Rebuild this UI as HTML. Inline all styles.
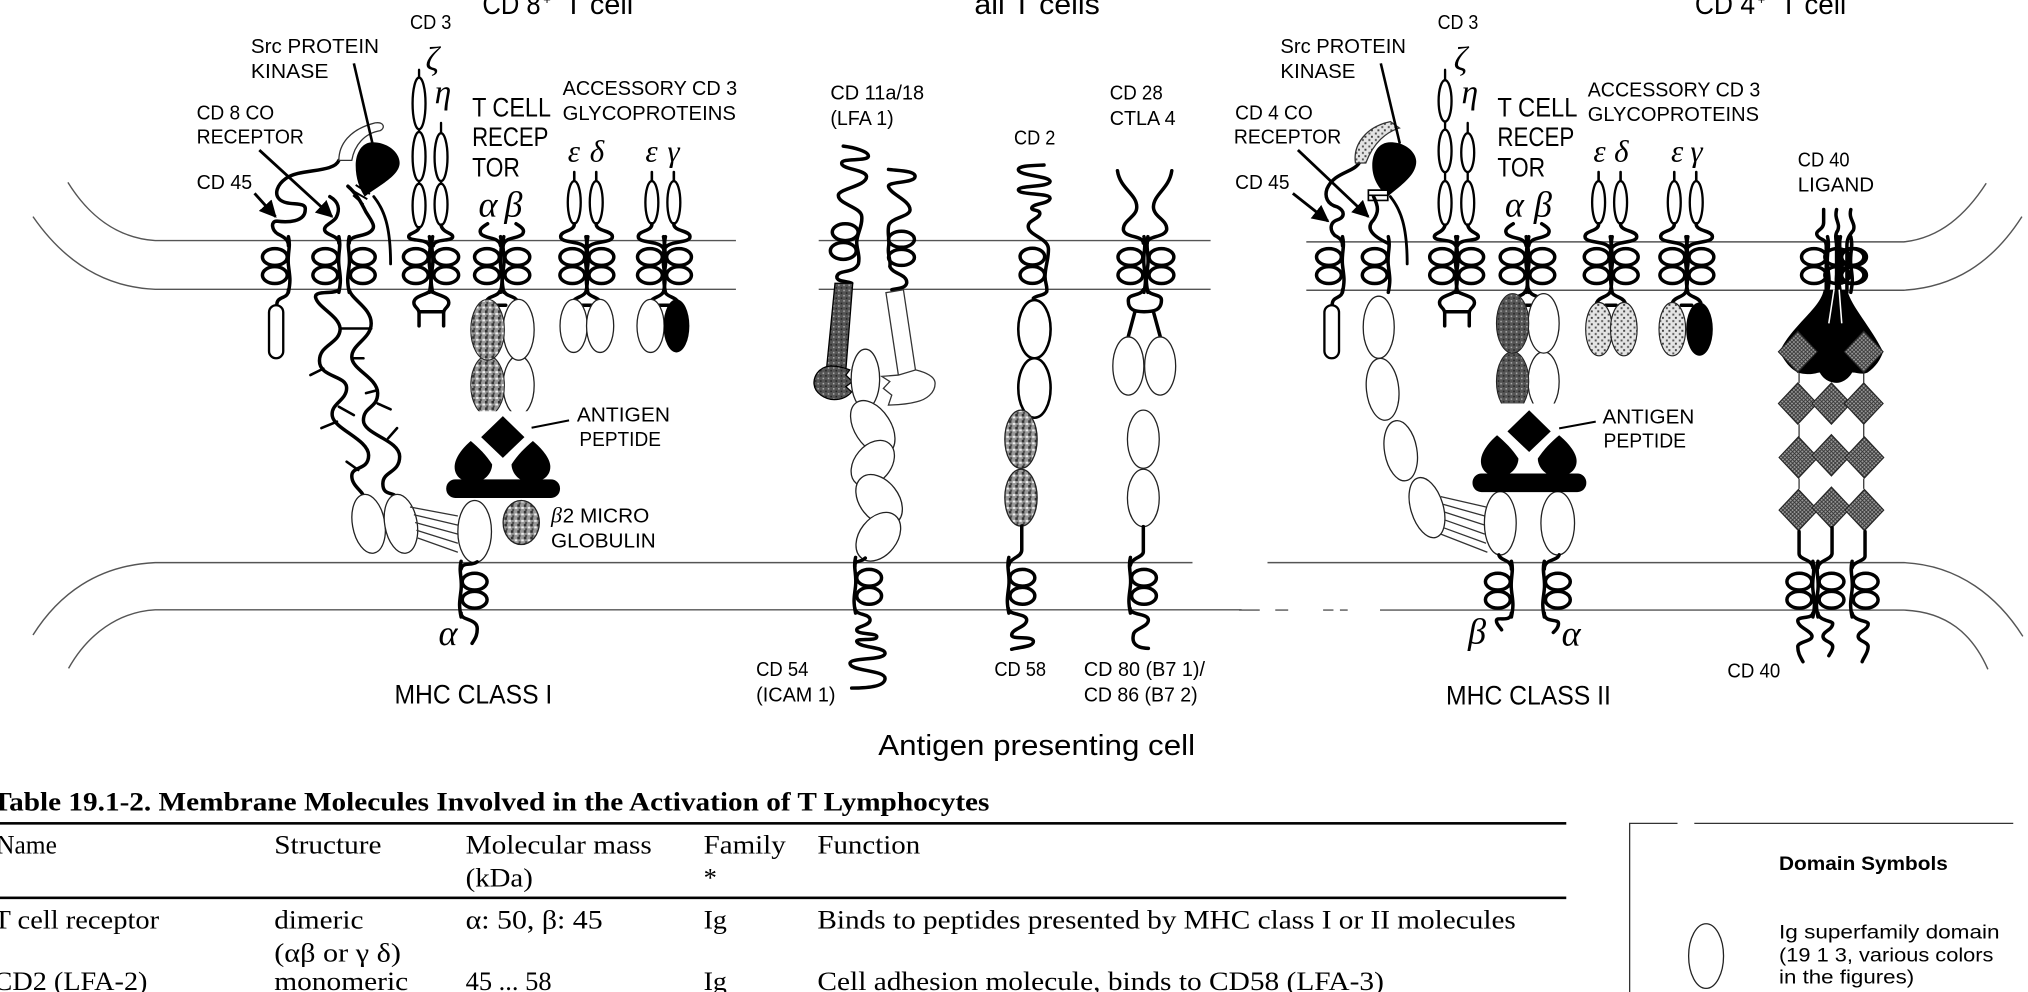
<!DOCTYPE html>
<html lang="en">
<head>
<meta charset="utf-8">
<title>T cell membrane molecules</title>
<style>
html,body{margin:0;padding:0;background:#fff;width:2028px;height:992px;overflow:hidden}
svg{display:block}
.s{font-family:"Liberation Sans",sans-serif;font-size:16px;fill:#000}
.m{font-family:"Liberation Sans",sans-serif;font-size:20.5px;fill:#000}
.h{font-family:"Liberation Sans",sans-serif;font-size:22px;fill:#000}
.g{font-family:"Liberation Serif",serif;font-style:italic;font-size:24px;fill:#000}
.ga{font-family:"Liberation Serif",serif;font-style:italic;font-size:28px;fill:#000}
.t{font-family:"Liberation Serif",serif;font-size:20.5px;fill:#000}
.b{font-family:"Liberation Serif",serif;font-size:20.5px;font-weight:bold;fill:#000}
.l{font-family:"Liberation Sans",sans-serif;font-size:15px;fill:#000}
.lb{font-family:"Liberation Sans",sans-serif;font-size:15px;font-weight:bold;fill:#000}
.w{fill:none;stroke:#000;stroke-width:2.7;stroke-linecap:round;stroke-linejoin:round}
.o{fill:#fff;stroke:#222;stroke-width:1}
.ob{fill:#fff;stroke:#000;stroke-width:2}
.n{fill:none;stroke:#333;stroke-width:1}
.mem{fill:none;stroke:#555;stroke-width:1.1}
</style>
</head>
<body>
<svg xmlns="http://www.w3.org/2000/svg" width="2028" height="992" viewBox="0 0 1568 767" preserveAspectRatio="none">
<defs>
<pattern id="st" width="5" height="5" patternUnits="userSpaceOnUse">
<rect width="5" height="5" fill="#999"/><rect x="0" y="0" width="2" height="2" fill="#333"/><rect x="3" y="2" width="2" height="1.5" fill="#eee"/><rect x="1" y="3.5" width="1.5" height="1.5" fill="#444"/>
</pattern>
<pattern id="lt" width="5" height="5" patternUnits="userSpaceOnUse">
<rect width="5" height="5" fill="#e4e4e4"/><rect x="0" y="0" width="1.5" height="1.5" fill="#444"/><rect x="3" y="2.5" width="1.5" height="1.5" fill="#555"/>
</pattern>
<pattern id="dk" width="4" height="4" patternUnits="userSpaceOnUse">
<rect width="4" height="4" fill="#555"/><rect x="0" y="0" width="1.2" height="1.2" fill="#aaa"/><rect x="2" y="2" width="1.2" height="1.2" fill="#222"/>
</pattern>
<pattern id="hx" width="3" height="3" patternUnits="userSpaceOnUse">
<rect width="3" height="3" fill="#999"/><path d="M0 0L3 3M3 0L0 3" stroke="#333" stroke-width=".7"/>
</pattern>
<marker id="a" viewBox="0 0 10 10" refX="9" refY="5" markerWidth="6" markerHeight="6" orient="auto"><path d="M0 0L10 5L0 10Z" fill="#000"/></marker>

<g id="cl" class="w"><ellipse cx="-10.5" cy="12.7" rx="9.6" ry="6.5"/><ellipse cx="-10.5" cy="26.7" rx="9.6" ry="6.5"/><path d="M0 -3C2 5-1 10 0 19S2 30 0 40"/></g>
<g id="cr" class="w"><ellipse cx="10.5" cy="12.7" rx="9.6" ry="6.5"/><ellipse cx="10.5" cy="26.7" rx="9.6" ry="6.5"/><path d="M0 -3C-2 5 1 10 0 19S-2 30 0 40"/></g>

<g id="ed" class="w">
<path d="M-9.5 -53V-46M7.5 -53V-46" style="stroke-width:2"/>
<ellipse cx="-9.5" cy="-29.5" rx="5" ry="16.5" fill="#fff" style="stroke-width:1.8"/><ellipse cx="7.5" cy="-29.5" rx="5" ry="16.5" fill="#fff" style="stroke-width:1.8"/>
<path d="M-9.5 -13C-9 -7-20 -8-20 -3C-20 3-1 -1 0 8M7.5 -13C7 -7 20 -8 20 -3C20 3 1 -1 0 8"/>
<path d="M0 38C-1 44-9 43-11 48M0 38C1 44 9 43 11 48M-4 50H4"/>
</g>

<g id="cd3b" class="w"><path d="M0 38C-1 42-13 42-13 48C-13 52-9 52-9 56L-9 66M0 38C1 42 14 42 14 48C14 52 10 52 10 56L10 66M-9 55H10"/></g>

<g id="tcr" class="w"><path d="M-11 -13C-16 -10-18 -8-16 -5C-12 -1-2 -3-1 4M11 -13C16 -10 18 -8 16 -5C12 -1 2 -3 1 4"/><path d="M-1 38C-3 44-10 42-12 47M1 38C3 44 10 42 12 47M-3 50H3"/></g>

<g id="mh">
<path fill="#000" d="M388.8 321.7L405.5 338L388.8 354L372 338Z"/>
<path fill="#000" d="M364 341C358 346 351.5 354 351.5 361C351.5 369 358 373 366 373C374 373 380.5 366 380.5 359C376 352 370 346 364 341Z"/>
<path fill="#000" d="M412 341C418 346 425.5 354 425.5 361C425.5 369 418 373 410 373C402 373 395.5 366 395.5 359C400 352 406 346 412 341Z"/>
<rect x="345" y="370.6" width="88" height="14.4" rx="7" fill="#000"/>
</g>

<path id="dm" d="M0 -16L15 0L0 16L-15 0Z" fill="url(#hx)" stroke="#222" stroke-width=".8"/>
<clipPath id="c1"><rect x="350" y="230" width="70" height="88"/></clipPath>
<clipPath id="c2"><rect x="1150" y="226" width="70" height="86"/></clipPath>
</defs>

<rect width="1568" height="767" fill="#fff"/>

<!-- T cell membrane -->
<path class="mem" d="M52.5 141C68 166 90 184 120 186H569M25.5 167.5C48 200 78 222 120 223.7H569"/>
<path class="mem" d="M633 186H936M633 223.7H936"/>
<path class="mem" d="M1010 187H1472C1500 184 1520 166 1535.7 141.7M1010 224.4H1472C1510 222 1540 204 1563.3 167.5"/>
<!-- APC membrane -->
<path class="mem" d="M25.5 491C45 460 75 437 120 435H922M53 516.8C68 490 92 473 120 471.5H960"/>
<path class="mem" d="M980 435H1472C1515 437 1545 462 1564 492M958 471.7H974M986 471.7H996M1023 471.7H1031M1036 471.7H1042M1067 471.7H1472C1505 473 1525 490 1537 517.5"/>

<!-- ===== CD8 panel ===== -->
<!-- CD45 -->
<use href="#cl" x="223" y="186"/>
<path class="w" d="M262 124C258 134 232 130 221 138C214 143 212 150 216 154C222 160 237 155 236 162C236 172 222 172 214 171C209 171 210 178 215 181C221 184 223 186 223 190M223 224C223 232 214 228 214 236"/>
<rect x="208" y="236" width="11" height="41" rx="5.5" fill="#fff" stroke="#000" stroke-width="1.8"/>
<!-- banana -->
<path d="M262 124C262 112 270 100 290 95C297 94 298 99 294 101C282 103 274 112 272 124Z" fill="#fff" stroke="#333" stroke-width="1"/>
<!-- kinase -->
<path d="M288 110C300 110 309 118 309 126C309 136 292 144 282 152C278 146 275 138 275 128C275 118 280 110 288 110Z" fill="#000"/>
<path d="M273.6 49L288 111" stroke="#000" stroke-width="2"/>
<path class="w" d="M289 152C297 162 302 175 302 204" style="stroke-width:2.2"/>
<path d="M272 147L284 154M273 151L281 158M275 143L286 150" stroke="#000" stroke-width="1.5"/>
<!-- CD8 chains -->
<use href="#cl" x="262" y="186"/><use href="#cr" x="270" y="186"/>
<path class="w" d="M255 152C262 156 263 162 260 168C258 172 250 174 251 178C252 182 262 182 262 188"/>
<path class="w" d="M269 144C276 150 280 158 283 164C288 172 292 176 285 180C280 183 270 182 270 188"/>
<path class="w" d="M262 224C258 228 243 224 244 230C246 238 262 244 263 254C263 266 247 266 247 279S268 290 268 300S255 312 257 322S285 340 285 352S272 360 272 368S281 380 281 384"/>
<path class="w" d="M270 224C272 232 287 238 287 250C287 262 272 266 272 276S292 292 292 304S281 314 281 325S309 340 309 353S296 364 296 374S305 380 305.5 384"/>
<path class="w" style="stroke-width:2" d="M263 254H287M240 290L250 285M262 314.5L273.6 321M248.5 331L260.5 326M268 357L277 363.4M273.6 277H281M283 304L292 301.6M292 312L302 316.5M300 339L307 331"/>
<ellipse class="o" cx="285" cy="405" rx="12.5" ry="23" transform="rotate(-10 285 405)"/>
<ellipse class="o" cx="310" cy="405" rx="12.5" ry="23" transform="rotate(-10 310 405)"/>
<path class="n" d="M317 392L354 399M320 398L354 406M321 404L354 413M322 410L354 420M323 416L354 427"/>
<ellipse class="o" cx="367" cy="411" rx="13" ry="24"/>
<ellipse cx="403" cy="404" rx="14" ry="17" fill="url(#st)" stroke="#222" stroke-width="1"/>
<use href="#mh"/>
<path d="M411 330.7L440 325" stroke="#000" stroke-width="1.6"/>
<!-- MHC I coil -->
<use href="#cr" x="356.5" y="437"/>
<path class="w" d="M369 434.4C364 438 358 434 356.5 440M356.5 474C356 480 369 478 369 486C369 492 367 494 365 497.4"/>
<!-- CD3 left -->
<use href="#cl" x="332" y="186"/><use href="#cr" x="334.5" y="186"/>
<use href="#cd3b" x="333" y="186"/>
<g class="w" style="stroke-width:1.8"><path d="M324 54V60M324 100V102M324 140V142M341 95V103M341 140V142"/>
<ellipse cx="324" cy="80" rx="5" ry="20" fill="#fff"/><ellipse cx="324" cy="121" rx="5" ry="19" fill="#fff"/><ellipse cx="324" cy="159" rx="5" ry="17" fill="#fff"/>
<ellipse cx="341" cy="121.5" rx="5" ry="18.5" fill="#fff"/><ellipse cx="341" cy="158" rx="5" ry="16" fill="#fff"/></g>
<path class="w" d="M324 176C323 180 316 180 316 183C316 187 330 184 332 190M341 174C342 180 350 180 350 183C350 187 336 184 335 190"/>
<!-- TCR left -->
<use href="#cl" x="387" y="186"/><use href="#cr" x="389.5" y="186"/><use href="#tcr" x="388" y="186"/>
<g clip-path="url(#c1)"><ellipse cx="401" cy="298" rx="12" ry="23" class="o"/><ellipse cx="377" cy="298" rx="13" ry="23" fill="url(#st)" stroke="#222" stroke-width=".8"/></g>
<ellipse cx="401" cy="255" rx="12" ry="23.5" class="o"/>
<ellipse cx="377" cy="255" rx="13" ry="23.5" fill="url(#st)" stroke="#222" stroke-width=".8"/>
<!-- eps delta, eps gamma left -->
<use href="#cl" x="453" y="186"/><use href="#cr" x="454.5" y="186"/><use href="#ed" x="453.5" y="186"/>
<ellipse class="o" cx="443.5" cy="252" rx="10.5" ry="20.5"/><ellipse class="o" cx="464" cy="252" rx="10.5" ry="20.5"/>
<use href="#cl" x="513" y="186"/><use href="#cr" x="514.5" y="186"/><use href="#ed" x="513.5" y="186"/>
<ellipse class="o" cx="503" cy="252" rx="10.5" ry="20.5"/><ellipse cx="523" cy="252" rx="10" ry="20.5" fill="#000"/>

<!-- ===== Middle ===== -->
<!-- LFA-1 -->
<g class="w"><ellipse cx="653.5" cy="179.5" rx="10" ry="6.5"/><ellipse cx="652" cy="194" rx="10" ry="6.5"/>
<path d="M652 113C660 114 672 117 671.4 121C670 125 651 122 650.8 126C650 131 670 131 670 136.6C670 144 648 146 648.2 151C648 158 666 160 666.3 167.5C667 175 662 182 662.4 188S665 198 663.7 204C660 212 648 208 647 214C647 218 654 217 658.5 219"/>
<ellipse cx="697" cy="185" rx="10" ry="6.2"/><ellipse cx="697" cy="199" rx="10" ry="6.2"/>
<path d="M687 131C695 132 708 132 707.5 136.6C707 142 686 140 687 144.3C688 150 704 155 703.6 162.4C703 168 688 168 687 175C686 182 688 184 687 191S689 200 688 206C690 212 702 212 701 219C700 223 694 223 689.5 224"/></g>
<path d="M645.6 219L659.3 219L654 286L639.2 283.5Z" fill="url(#dk)" stroke="#000" stroke-width="1"/>
<path d="M642 283C632 284 629 292 629.4 297C630 304 638 309 645 309C652 309 656 306 658.5 303L654 299L659 295L654 290L657 286C652 284 648 283 642 283Z" fill="url(#dk)" stroke="#000" stroke-width="1"/>
<path d="M685 226.3L698.5 224L708 287.3L694.6 290Z" fill="#fff" stroke="#333" stroke-width="1"/>
<path d="M681.8 291L694.6 290L708 286C716 288 723 291 723 296.4C723 304 716 309 708.8 310.6C700 313 692 313 686.9 313.2L689.5 305.5L683 300.3L688 295Z" fill="#fff" stroke="#333" stroke-width="1"/>
<ellipse class="o" cx="669.1" cy="293" rx="11" ry="23"/>
<ellipse class="o" cx="674.8" cy="330.5" rx="14" ry="23" transform="rotate(-33 674.8 330.5)"/>
<ellipse class="o" cx="674.8" cy="358.3" rx="14" ry="20" transform="rotate(40 674.8 358.3)"/>
<ellipse class="o" cx="679.7" cy="386.6" rx="15" ry="22" transform="rotate(-38 679.7 386.6)"/>
<ellipse class="o" cx="679.1" cy="415" rx="14.5" ry="21" transform="rotate(38 679.1 415)"/>
<use href="#cr" x="661.5" y="434"/>
<path class="w" d="M669 431.5C664 436 661 432 661 438M661 470.4C661 476 672.7 474 672.7 479.4C672.7 484 662.4 484 662.4 487C662.4 491 677.9 489 677.9 492.3C677.9 496 662 493 662.4 496C664 501 684.3 500 684.3 505C684.3 511 657.2 508 657.2 512.9C657.2 519 684.3 518 684.3 524.5C684.3 531 670 532 658.5 532"/>
<!-- CD2 -->
<g class="w"><ellipse cx="798.2" cy="198.4" rx="9.5" ry="6.5"/><ellipse cx="798.2" cy="212.6" rx="9.5" ry="6.5"/>
<path d="M807.2 127.6C798 128 787 128 787.4 131.4C788 136 812 136 811.9 140.4C811 145 787 143 787.4 146.9C788 151 812 149 811.9 153.3C811 158 798 157 797.7 161C798 163 804 162 804 165C804 169 795 170 795 175C795 182 810 184 810.6 192C811 200 808 206 808 214C808 219 810 221 809.3 225.5C807 229 802 228 799 230.6"/></g>
<g fill="#fff" stroke="#000" stroke-width="2"><ellipse cx="799.8" cy="300" rx="12.5" ry="23"/><ellipse cx="799.8" cy="254.5" rx="12.5" ry="22.5"/></g>
<ellipse cx="789.4" cy="339.6" rx="12.5" ry="22.5" fill="url(#st)" stroke="#222" stroke-width="1"/>
<ellipse cx="789.4" cy="384.8" rx="12.5" ry="22" fill="url(#st)" stroke="#222" stroke-width="1"/>
<path class="w" d="M790 406.7V425.3C790 431 781 431 780 437"/>
<use href="#cr" x="780" y="434"/>
<path class="w" d="M779.6 470.4C780 476 793.8 474 793.8 479.4C793.8 485 782.2 486 782.2 491C782.2 495 799 491 799 496C799 500 790 500 782.2 502"/>
<!-- CTLA -->
<use href="#cl" x="884.5" y="186"/><use href="#cr" x="887.5" y="186"/>
<path class="w" d="M864 132C866 146 879 150 878.9 160C879 168 868 170 868.6 177.8C870 184 884 182 884 188M906 132C904 146 892 150 891.8 160C892 168 903 170 902 177.8C900 184 887 182 887 188"/>
<path class="w" d="M884 224C882 229 872.4 227 872.4 232C872 240 878 241 884.5 241C892 241 898 240 898 232C898 227 889 229 887 224M877.5 241L872.4 260M891.8 241L897 260"/>
<ellipse class="o" cx="872.4" cy="283" rx="12" ry="22.5"/><ellipse class="o" cx="897" cy="283" rx="12" ry="22.5"/>
<ellipse class="o" cx="884" cy="339.6" rx="12.3" ry="22.5"/><ellipse class="o" cx="884" cy="385" rx="12.3" ry="22.2"/>
<path class="w" d="M884 407.2V426.6C884 431 875 431 874 437"/>
<use href="#cr" x="874" y="434"/>
<path class="w" d="M873.7 470.4C874 476 887.9 474 887.9 479.4C887.9 485 876.3 486 876.3 491C875 497 878 501 887.9 501.3"/>

<!-- ===== CD4 panel ===== -->
<use href="#cl" x="1038" y="186"/>
<path class="w" d="M1052 124C1048 134 1032 132 1026 146C1024 152 1026 158 1034 160C1040 163 1040 168 1034 170C1028 172 1028 178 1032 182C1036 184 1038 186 1038 190M1038 224C1038 232 1030 228 1030 236"/>
<rect x="1024" y="236" width="11.3" height="41" rx="5.6" fill="#fff" stroke="#000" stroke-width="1.8"/>
<path d="M1048 126C1046 112 1056 98 1075 94L1082 99C1072 102 1062 110 1056 126Z" fill="url(#lt)" stroke="#333" stroke-width="1"/>
<path d="M1075 110C1087 110 1095 118 1095 125C1095 136 1082 144 1073 152C1066 146 1061 138 1061 128C1061 118 1066 110 1075 110Z" fill="#000"/>
<path d="M1067.6 49L1082.3 111" stroke="#000" stroke-width="2"/>
<path class="w" d="M1075 152C1083 162 1088 175 1088 204" style="stroke-width:2.2"/>
<path d="M1058 147H1073V155H1058ZM1058 151H1073" fill="#fff" stroke="#000" stroke-width="1.3"/>
<use href="#cl" x="1073.4" y="186"/>
<path class="w" d="M1062 152C1066 160 1066 164 1062 170C1056 176 1060 182 1073 188"/>
<ellipse class="o" cx="1066" cy="253" rx="12" ry="24"/>
<ellipse class="o" cx="1069" cy="301" rx="12.5" ry="24" transform="rotate(-6 1069 301)"/>
<ellipse class="o" cx="1083" cy="348.5" rx="12.5" ry="23.5" transform="rotate(-10 1083 348.5)"/>
<ellipse class="o" cx="1103.3" cy="392.5" rx="12.5" ry="24" transform="rotate(-17 1103.3 392.5)"/>
<path class="n" d="M1114 384L1149 392M1116 390L1148 399M1117 396L1148 406M1117 402L1148 413M1116 408L1149 420M1114 413L1150 427"/>
<ellipse class="o" cx="1160" cy="404.6" rx="12.3" ry="24.5"/>
<ellipse class="o" cx="1204.4" cy="404.6" rx="13" ry="24.5"/>
<use href="#mh" transform="translate(793.5,-4.5)"/>
<path d="M1205.5 331.2L1233.8 326" stroke="#000" stroke-width="1.6"/>
<use href="#cl" x="1168.6" y="437"/><use href="#cr" x="1194" y="437"/>
<path class="w" d="M1158.9 429C1160 434 1168.6 432 1168.6 440M1205.5 429C1204 434 1194 432 1194 440M1168.6 474C1168 482 1157 476 1157 480C1157 483 1160 485 1161 487M1194 474C1194 482 1205 478 1205 482C1205 485 1203 487 1201 489"/>
<!-- CD3 right -->
<use href="#cl" x="1125.5" y="186"/><use href="#cr" x="1127" y="186"/>
<use href="#cd3b" x="1126" y="186"/>
<g class="w" style="stroke-width:1.8"><path d="M1117.3 54V62M1117.3 94V100.5M1117.3 133V140M1134.8 95V103M1134.8 133V140"/>
<ellipse cx="1117.3" cy="78" rx="5" ry="16" fill="#fff"/><ellipse cx="1117.3" cy="116.7" rx="5" ry="16.5" fill="#fff"/><ellipse cx="1117.3" cy="157" rx="5" ry="17" fill="#fff"/>
<ellipse cx="1134.8" cy="118" rx="5" ry="15" fill="#fff"/><ellipse cx="1134.8" cy="157" rx="5" ry="17" fill="#fff"/></g>
<path class="w" d="M1117.3 174C1116 180 1109 180 1109 183C1109 187 1123 184 1125.5 190M1134.8 174C1136 180 1143 180 1143 183C1143 187 1129 184 1127 190"/>
<!-- TCR right -->
<use href="#cl" x="1180" y="186"/><use href="#cr" x="1182" y="186"/><use href="#tcr" x="1181" y="186"/>
<g clip-path="url(#c2)"><ellipse cx="1193.5" cy="295" rx="12" ry="23" class="o"/><ellipse cx="1169.5" cy="295" rx="12.5" ry="23" fill="url(#dk)" stroke="#222" stroke-width=".8"/></g>
<ellipse cx="1193.5" cy="250" rx="12" ry="23" class="o"/>
<ellipse cx="1169.5" cy="250" rx="12.5" ry="23" fill="url(#dk)" stroke="#222" stroke-width=".8"/>
<!-- eps delta/gamma right -->
<use href="#cl" x="1245" y="186"/><use href="#cr" x="1246.5" y="186"/><use href="#ed" x="1245.5" y="186"/>
<ellipse cx="1236.3" cy="254.5" rx="10.3" ry="20.6" fill="url(#lt)" stroke="#222" stroke-width=".9"/><ellipse cx="1255.5" cy="254.5" rx="10.3" ry="20.6" fill="url(#lt)" stroke="#222" stroke-width=".9"/>
<use href="#cl" x="1303.5" y="186"/><use href="#cr" x="1305" y="186"/><use href="#ed" x="1304" y="186"/>
<ellipse cx="1293" cy="254.5" rx="10.3" ry="20.6" fill="url(#lt)" stroke="#222" stroke-width=".9"/><ellipse cx="1314" cy="254.5" rx="10.3" ry="20.6" fill="#000"/>
<!-- CD40 ligand -->
<use href="#cl" x="1413" y="186"/><use href="#cr" x="1423" y="186"/><use href="#cl" x="1431" y="186"/><use href="#cr" x="1421" y="186"/>
<path class="w" d="M1410 162V172C1410 178 1403 178 1405 182C1407 186 1412 184 1412 190V226M1420 162C1418 170 1423 172 1421 178C1418 182 1420 186 1420 190V226M1431 162C1429 170 1435 172 1433 178C1430 182 1428 184 1428 190V226"/>
<path fill="#000" d="M1410 224C1408 238 1385 252 1376 272C1380 280 1386 288 1394 289C1402 290 1405 288 1407 288C1410 294 1416 296 1420 296C1425 296 1430 292 1432 288C1436 288 1440 290 1444 288C1450 284 1454 278 1456 272C1446 252 1432 238 1428 224Z"/>
<path d="M1418 224L1414 250M1422 224L1424 250" stroke="#fff" stroke-width="1.2"/>
<use href="#dm" x="1390" y="272"/><use href="#dm" x="1441" y="272"/>
<use href="#dm" x="1390" y="312"/><use href="#dm" x="1416" y="312"/><use href="#dm" x="1441" y="312"/>
<use href="#dm" x="1390.5" y="353.7"/><use href="#dm" x="1416" y="352"/><use href="#dm" x="1441.5" y="353.7"/>
<use href="#dm" x="1390.5" y="394.4"/><use href="#dm" x="1416" y="392.5"/><use href="#dm" x="1441.5" y="394.4"/>
<path d="M1391 288V296M1441 288V296M1391 328V338M1441 328V338M1391 370V378M1441 370V378" stroke="#222" stroke-width=".9"/>
<path class="w" d="M1391 411V428C1391 433 1401 432 1401.7 439M1416.5 408V428C1416 433 1406 433 1405.6 439M1442 411V430C1442 434 1433 434 1432 439"/>
<use href="#cl" x="1401.7" y="437"/><use href="#cr" x="1405.6" y="437"/><use href="#cr" x="1432" y="437"/>
<path class="w" d="M1401.7 474C1401 479 1390 476 1390 480C1390 485 1401 488 1401 492C1401 496 1390 496 1390 500C1390 505 1392 508 1394 511.6M1405.6 474C1406 480 1417 480 1417 482C1417 487 1409.5 488 1409.5 492C1409.5 496 1417 496 1417 500C1417 503 1415 505 1414 507M1432 474C1433 480 1444 480 1444.4 482C1445 487 1436.7 488 1436.7 492C1436.7 496 1444.4 496 1444.4 500C1444.4 505 1441 508 1439.8 511.6"/>

<!-- arrows -->
<g stroke="#000" stroke-width="2.2">
<path d="M200.5 116L256.7 167.5" marker-end="url(#a)"/>
<path d="M196.8 149.5L213 167.5" marker-end="url(#a)"/>
<path d="M1003.5 116L1057.9 167.5" marker-end="url(#a)"/>
<path d="M999.6 149.5L1026.8 171" marker-end="url(#a)"/>
</g>

<!-- Titles -->
<text class="h" x="373" y="11" textLength="45" lengthAdjust="spacingAndGlyphs">CD 8</text><text class="s" x="420" y="3" style="font-size:10px">+</text><text class="h" x="436.6" y="11" textLength="53" lengthAdjust="spacingAndGlyphs">T cell</text>
<text class="h" x="753.4" y="11" textLength="97" lengthAdjust="spacingAndGlyphs">all T cells</text>
<text class="h" x="1310.4" y="11" textLength="46.6" lengthAdjust="spacingAndGlyphs">CD 4</text><text class="s" x="1359" y="3" style="font-size:10px">+</text><text class="h" x="1376.4" y="11" textLength="51" lengthAdjust="spacingAndGlyphs">T cell</text>

<!-- Left labels -->
<text class="s" x="194" y="41" textLength="99" lengthAdjust="spacingAndGlyphs">Src PROTEIN</text>
<text class="s" x="194" y="60.5" textLength="60" lengthAdjust="spacingAndGlyphs">KINASE</text>
<text class="s" x="317" y="22.5" textLength="32" lengthAdjust="spacingAndGlyphs">CD 3</text>
<text class="g" x="329" y="54" style="font-size:26px">ζ</text><text class="g" x="336" y="80" style="font-size:26px">η</text>
<text class="s" x="152" y="92.5" textLength="60" lengthAdjust="spacingAndGlyphs">CD 8 CO</text>
<text class="s" x="152" y="111" textLength="83" lengthAdjust="spacingAndGlyphs">RECEPTOR</text>
<text class="s" x="152" y="146" textLength="43" lengthAdjust="spacingAndGlyphs">CD 45</text>
<text class="m" x="365" y="90" textLength="61" lengthAdjust="spacingAndGlyphs">T CELL</text>
<text class="m" x="365" y="113" textLength="59" lengthAdjust="spacingAndGlyphs">RECEP</text>
<text class="m" x="365" y="136.6" textLength="37" lengthAdjust="spacingAndGlyphs">TOR</text>
<text class="s" x="435" y="73.5" textLength="135" lengthAdjust="spacingAndGlyphs">ACCESSORY CD 3</text>
<text class="s" x="435" y="92.8" textLength="134" lengthAdjust="spacingAndGlyphs">GLYCOPROTEINS</text>
<text class="g" x="439" y="125">ε</text><text class="g" x="456" y="125">δ</text>
<text class="g" x="499" y="125">ε</text><text class="g" x="516" y="125">γ</text>
<text class="ga" x="370" y="167.5">α</text><text class="ga" x="390" y="167.5">β</text>
<text class="s" x="446" y="326" textLength="72" lengthAdjust="spacingAndGlyphs">ANTIGEN</text>
<text class="s" x="448" y="345" textLength="63" lengthAdjust="spacingAndGlyphs">PEPTIDE</text>
<text class="g" x="426" y="404" style="font-size:17px">β</text><text class="s" x="435" y="404" textLength="67" lengthAdjust="spacingAndGlyphs">2 MICRO</text>
<text class="s" x="426" y="423.5" textLength="81" lengthAdjust="spacingAndGlyphs">GLOBULIN</text>
<text class="ga" x="339" y="498.7">α</text>
<text class="m" x="305" y="543.8" textLength="122" lengthAdjust="spacingAndGlyphs">MHC CLASS I</text>

<!-- Middle labels -->
<text class="s" x="642" y="76.8" textLength="72.5" lengthAdjust="spacingAndGlyphs">CD 11a/18</text>
<text class="s" x="642" y="96.6" textLength="49" lengthAdjust="spacingAndGlyphs">(LFA 1)</text>
<text class="s" x="784" y="111.6" textLength="32" lengthAdjust="spacingAndGlyphs">CD 2</text>
<text class="s" x="858" y="76.8" textLength="41" lengthAdjust="spacingAndGlyphs">CD 28</text>
<text class="s" x="858" y="96.6" textLength="51" lengthAdjust="spacingAndGlyphs">CTLA 4</text>
<text class="s" x="584.6" y="522.7" textLength="40.4" lengthAdjust="spacingAndGlyphs">CD 54</text>
<text class="s" x="584.6" y="542.5" textLength="61.4" lengthAdjust="spacingAndGlyphs">(ICAM 1)</text>
<text class="s" x="768.8" y="522.7" textLength="40" lengthAdjust="spacingAndGlyphs">CD 58</text>
<text class="s" x="838" y="522.7" textLength="93.7" lengthAdjust="spacingAndGlyphs">CD 80 (B7 1)/</text>
<text class="s" x="838" y="542.5" textLength="88" lengthAdjust="spacingAndGlyphs">CD 86 (B7 2)</text>
<text class="h" x="679" y="583.8" textLength="245" lengthAdjust="spacingAndGlyphs">Antigen presenting cell</text>

<!-- Right labels -->
<text class="s" x="990" y="41" textLength="97" lengthAdjust="spacingAndGlyphs">Src PROTEIN</text>
<text class="s" x="990" y="60.5" textLength="58" lengthAdjust="spacingAndGlyphs">KINASE</text>
<text class="s" x="1111.5" y="22.5" textLength="31.5" lengthAdjust="spacingAndGlyphs">CD 3</text>
<text class="g" x="1124" y="54" style="font-size:26px">ζ</text><text class="g" x="1130" y="80" style="font-size:26px">η</text>
<text class="s" x="955" y="92.5" textLength="60" lengthAdjust="spacingAndGlyphs">CD 4 CO</text>
<text class="s" x="954" y="111" textLength="83" lengthAdjust="spacingAndGlyphs">RECEPTOR</text>
<text class="s" x="955" y="146" textLength="42" lengthAdjust="spacingAndGlyphs">CD 45</text>
<text class="m" x="1157.7" y="90" textLength="62" lengthAdjust="spacingAndGlyphs">T CELL</text>
<text class="m" x="1157.7" y="113" textLength="59.5" lengthAdjust="spacingAndGlyphs">RECEP</text>
<text class="m" x="1157.7" y="136.6" textLength="37" lengthAdjust="spacingAndGlyphs">TOR</text>
<text class="s" x="1227.6" y="74.7" textLength="133.4" lengthAdjust="spacingAndGlyphs">ACCESSORY CD 3</text>
<text class="s" x="1227.6" y="93.5" textLength="132.4" lengthAdjust="spacingAndGlyphs">GLYCOPROTEINS</text>
<text class="g" x="1232" y="125">ε</text><text class="g" x="1248" y="125">δ</text>
<text class="g" x="1292" y="125">ε</text><text class="g" x="1307" y="125">γ</text>
<text class="ga" x="1163.5" y="167.5">α</text><text class="ga" x="1186" y="167.5">β</text>
<text class="s" x="1390" y="128.9" textLength="40" lengthAdjust="spacingAndGlyphs">CD 40</text>
<text class="s" x="1390" y="148" textLength="59" lengthAdjust="spacingAndGlyphs">LIGAND</text>
<text class="s" x="1239" y="327.4" textLength="71" lengthAdjust="spacingAndGlyphs">ANTIGEN</text>
<text class="s" x="1239.8" y="346" textLength="63.8" lengthAdjust="spacingAndGlyphs">PEPTIDE</text>
<text class="ga" x="1135" y="497.5">β</text><text class="ga" x="1207.4" y="499">α</text>
<text class="m" x="1118" y="544.6" textLength="127.5" lengthAdjust="spacingAndGlyphs">MHC CLASS II</text>
<text class="s" x="1335.6" y="524" textLength="40.8" lengthAdjust="spacingAndGlyphs">CD 40</text>

<!-- Table -->
<text class="b" x="-6" y="626.8" textLength="771" lengthAdjust="spacingAndGlyphs">Table 19.1-2. Membrane Molecules Involved in the Activation of T Lymphocytes</text>
<rect x="0" y="635.6" width="1211" height="2" fill="#000"/>
<rect x="0" y="693.2" width="1211" height="2" fill="#000"/>
<text class="t" x="-3" y="660" textLength="47" lengthAdjust="spacingAndGlyphs">Name</text>
<text class="t" x="212" y="660" textLength="83" lengthAdjust="spacingAndGlyphs">Structure</text>
<text class="t" x="360" y="660" textLength="144" lengthAdjust="spacingAndGlyphs">Molecular mass</text>
<text class="t" x="544" y="660" textLength="63.5" lengthAdjust="spacingAndGlyphs">Family</text>
<text class="t" x="632" y="660" textLength="79.5" lengthAdjust="spacingAndGlyphs">Function</text>
<text class="t" x="360" y="685.6" textLength="52" lengthAdjust="spacingAndGlyphs">(kDa)</text>
<text class="t" x="544" y="685.6">*</text>
<text class="t" x="-5" y="717.8" textLength="128" lengthAdjust="spacingAndGlyphs">T cell receptor</text>
<text class="t" x="212" y="717.8" textLength="69" lengthAdjust="spacingAndGlyphs">dimeric</text>
<text class="t" x="360" y="717.8" textLength="106" lengthAdjust="spacingAndGlyphs">α: 50, β: 45</text>
<text class="t" x="544" y="717.8" textLength="18" lengthAdjust="spacingAndGlyphs">Ig</text>
<text class="t" x="632" y="717.8" textLength="540" lengthAdjust="spacingAndGlyphs">Binds to peptides presented by MHC class I or II molecules</text>
<text class="t" x="212" y="743.6" textLength="98" lengthAdjust="spacingAndGlyphs">(αβ or γ δ)</text>
<text class="t" x="-5" y="765.5" textLength="119" lengthAdjust="spacingAndGlyphs">CD2 (LFA-2)</text>
<text class="t" x="212" y="765.5" textLength="103.6" lengthAdjust="spacingAndGlyphs">monomeric</text>
<text class="t" x="360" y="765.5" textLength="66.5" lengthAdjust="spacingAndGlyphs">45 ... 58</text>
<text class="t" x="544" y="765.5" textLength="18" lengthAdjust="spacingAndGlyphs">Ig</text>
<text class="t" x="632" y="765.5" textLength="438" lengthAdjust="spacingAndGlyphs">Cell adhesion molecule, binds to CD58 (LFA-3)</text>

<!-- Legend -->
<path d="M1260 767V636.6H1297M1310 636.6H1556.6" fill="none" stroke="#333" stroke-width="1"/>
<text class="lb" x="1375.5" y="672.7" textLength="130.5" lengthAdjust="spacingAndGlyphs">Domain Symbols</text>
<ellipse class="o" cx="1319.1" cy="739.2" rx="13.5" ry="25"/>
<text class="l" x="1375.5" y="725.5" textLength="170.5" lengthAdjust="spacingAndGlyphs">Ig superfamily domain</text>
<text class="l" x="1375.5" y="743.6" textLength="165.8" lengthAdjust="spacingAndGlyphs">(19 1 3, various colors</text>
<text class="l" x="1375.5" y="760.3" textLength="104.5" lengthAdjust="spacingAndGlyphs">in the figures)</text>
</svg>
</body>
</html>
